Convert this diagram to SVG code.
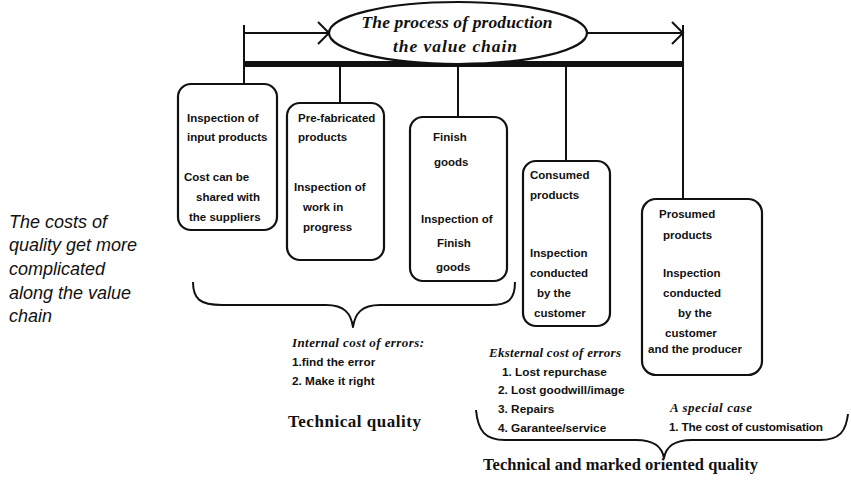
<svg xmlns="http://www.w3.org/2000/svg" width="851" height="482" viewBox="0 0 851 482">
  <defs>
    <style>
      .box { fill: #fff; stroke: #111; stroke-width: 2.2; }
      .ln { stroke: #111; stroke-width: 2; fill: none; }
      .bar { stroke: #111; stroke-width: 6; fill: none; }
      .brace { stroke: #111; stroke-width: 2; fill: none; stroke-linejoin: round; }
      .t { font-family: "Liberation Sans", Arial, sans-serif; font-size: 11.5px; font-weight: bold; fill: #111; }
      .lst { font-family: "Liberation Sans", Arial, sans-serif; font-size: 11.8px; font-weight: bold; fill: #111; }
      .hd { font-family: "Liberation Serif", "Times New Roman", serif; font-style: italic; font-weight: bold; fill: #111; }
      .ttl { font-family: "Liberation Serif", "Times New Roman", serif; font-weight: bold; fill: #111; }
      .side { font-family: "Liberation Sans", Arial, sans-serif; font-style: italic; font-size: 18px; fill: #111; }
    </style>
  </defs>

  <!-- framework: title arrows, main bar and drop lines -->
  <g id="connectors">
    <line class="ln" x1="244" y1="25" x2="244" y2="84"/>
    <line class="ln" x1="683" y1="25" x2="683" y2="199"/>
    <line class="ln" x1="244" y1="33" x2="329" y2="33"/>
    <polyline class="ln" points="318,22 329,33 318,44"/>
    <line class="ln" x1="587" y1="33" x2="683" y2="33"/>
    <polyline class="ln" points="672,22 683,33 672,44"/>
    <line class="bar" x1="244" y1="64" x2="683" y2="64"/>
    <line class="ln" x1="340" y1="64" x2="340" y2="103"/>
    <line class="ln" x1="458" y1="64" x2="458" y2="117"/>
    <line class="ln" x1="566" y1="64" x2="566" y2="161"/>
  </g>

  <g id="value-chain">
    <ellipse cx="458" cy="33" rx="129" ry="31" fill="#fff" stroke="#111" stroke-width="2.2"/>
    <text class="hd" x="457" y="28" font-size="17.5" text-anchor="middle" textLength="191" lengthAdjust="spacing">The process of production</text>
    <text class="hd" x="455" y="52" font-size="17.5" text-anchor="middle" textLength="124" lengthAdjust="spacing">the value chain</text>
  </g>

  <g id="input-products">
    <rect class="box" x="178" y="84" width="99" height="146" rx="13"/>
    <text class="t" x="187" y="122">Inspection of</text>
    <text class="t" x="187" y="141">input products</text>
    <text class="t" x="184" y="181">Cost can be</text>
    <text class="t" x="196" y="201">shared with</text>
    <text class="t" x="189" y="221">the suppliers</text>
  </g>

  <g id="prefabricated">
    <rect class="box" x="287" y="103" width="97" height="157" rx="13"/>
    <text class="t" x="298" y="122">Pre-fabricated</text>
    <text class="t" x="298" y="141">products</text>
    <text class="t" x="294" y="191">Inspection of</text>
    <text class="t" x="303" y="211">work in</text>
    <text class="t" x="303" y="231">progress</text>
  </g>

  <g id="finish-goods">
    <rect class="box" x="410" y="117" width="97" height="164" rx="13"/>
    <text class="t" x="433" y="141">Finish</text>
    <text class="t" x="434" y="166">goods</text>
    <text class="t" x="421" y="223">Inspection of</text>
    <text class="t" x="437" y="247">Finish</text>
    <text class="t" x="436" y="271">goods</text>
  </g>

  <g id="consumed">
    <rect class="box" x="523" y="161" width="87" height="165" rx="13"/>
    <text class="t" x="530" y="179">Consumed</text>
    <text class="t" x="530" y="199">products</text>
    <text class="t" x="530" y="257">Inspection</text>
    <text class="t" x="530" y="277">conducted</text>
    <text class="t" x="537" y="297">by the</text>
    <text class="t" x="534" y="317">customer</text>
  </g>

  <g id="prosumed">
    <rect class="box" x="642" y="199" width="120" height="176" rx="14"/>
    <text class="t" x="659" y="218">Prosumed</text>
    <text class="t" x="663" y="239">products</text>
    <text class="t" x="663" y="277">Inspection</text>
    <text class="t" x="663" y="297">conducted</text>
    <text class="t" x="678" y="317">by the</text>
    <text class="t" x="665" y="337">customer</text>
    <text class="t" x="648" y="353">and the producer</text>
  </g>

  <!-- side note -->
  <g id="note">
    <text class="side" x="9" y="228">The costs of</text>
    <text class="side" x="9" y="251">quality get more</text>
    <text class="side" x="9" y="275">complicated</text>
    <text class="side" x="9" y="299">along the value</text>
    <text class="side" x="9" y="322">chain</text>
  </g>

  <!-- internal costs -->
  <g id="internal">
    <path class="brace" d="M193,282 C193,299 200,305 222,305 L326,305 C345,305 351,314 353,327 C355,314 361,305 380,305 L490,305 C509,305 515,299 515,282"/>
    <text class="hd" x="292" y="347" font-size="13" textLength="132" lengthAdjust="spacing">Internal cost of errors:</text>
    <text class="lst" x="292" y="366">1.find the error</text>
    <text class="lst" x="292" y="385">2. Make it right</text>
    <text class="ttl" x="288" y="427" font-size="17" textLength="133" lengthAdjust="spacing">Technical quality</text>
  </g>

  <!-- external costs -->
  <g id="external">
    <path class="brace" d="M476,410 C478,431 485,440 505,440 L636,440 C655,440 662,447 664,458 C666,447 673,440 692,440 L820,440 C840,440 846,431 848,414"/>
    <text class="hd" x="489" y="357" font-size="13" textLength="132" lengthAdjust="spacing">Eksternal cost of errors</text>
    <text class="lst" x="502" y="376">1. Lost repurchase</text>
    <text class="lst" x="498" y="394">2. Lost goodwill/image</text>
    <text class="lst" x="498" y="413">3. Repairs</text>
    <text class="lst" x="498" y="432">4. Garantee/service</text>
    <text class="hd" x="670" y="412" font-size="13" textLength="82" lengthAdjust="spacing">A special case</text>
    <text class="lst" x="669" y="431" textLength="154" lengthAdjust="spacing">1. The cost of customisation</text>
    <text class="ttl" x="483" y="470" font-size="16.5" textLength="275" lengthAdjust="spacing">Technical and marked oriented quality</text>
  </g>
</svg>
